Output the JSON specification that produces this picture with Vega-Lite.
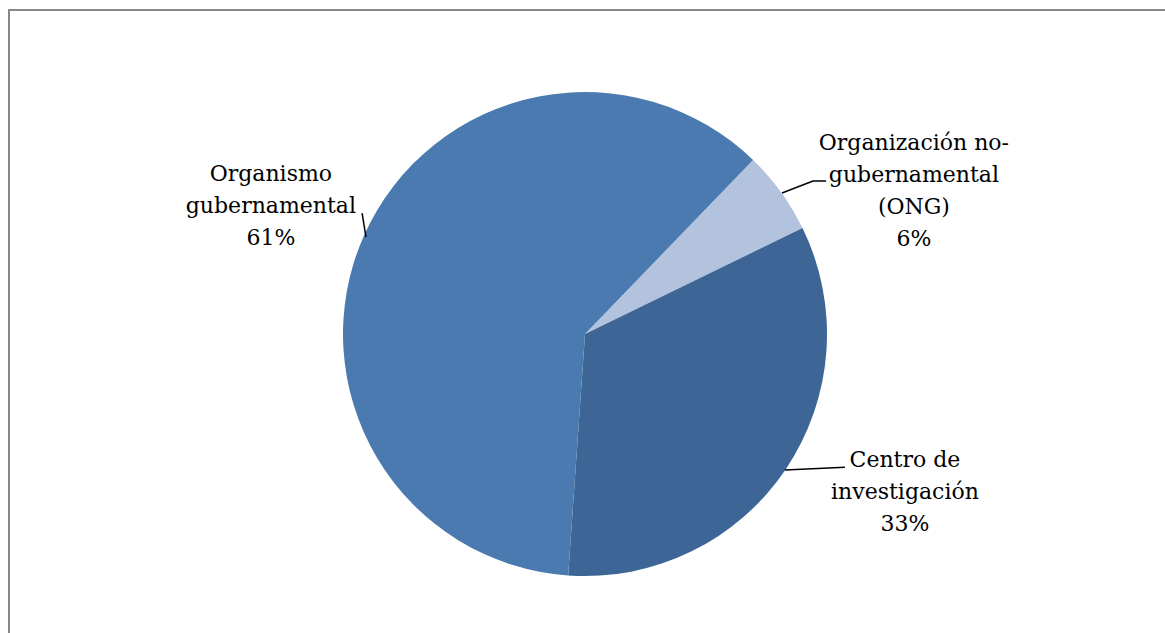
{
  "$schema": "https://vega.github.io/schema/vega-lite/v6.json",
  "width": 1160,
  "height": 630,
  "autosize": {"type": "none"},
  "padding": {"left": 9, "top": 10, "right": 0, "bottom": 0},
  "background": "white",
  "config": {"view": {"stroke": "#878787", "strokeWidth": 2}},
  "datasets": {
    "porciones": [
      {"categoria": "Organización no-gubernamental (ONG)", "valor": 1, "orden": 1},
      {"categoria": "Centro de investigación", "valor": 6, "orden": 2},
      {"categoria": "Organismo gubernamental", "valor": 11, "orden": 3}
    ],
    "etiquetas": [
      {"etiqueta": "Organismo\ngubernamental\n61%", "lx": -129.8, "ly": 66.1},
      {"etiqueta": "Organización no-\ngubernamental\n(ONG)\n6%", "lx": 135.9, "ly": 78.9},
      {"etiqueta": "Centro de\ninvestigación\n33%", "lx": 132.2, "ly": -52.1}
    ],
    "guias": [
      {"grupo": "Organismo", "paso": 1, "px": -92.1, "py": 50.0},
      {"grupo": "Organismo", "paso": 2, "px": -90.5, "py": 40.1},
      {"grupo": "ONG", "paso": 1, "px": 81.4, "py": 58.3},
      {"grupo": "ONG", "paso": 2, "px": 94.2, "py": 63.2},
      {"grupo": "ONG", "paso": 3, "px": 99.6, "py": 63.2},
      {"grupo": "Centro", "paso": 1, "px": 82.6, "py": -56.2},
      {"grupo": "Centro", "paso": 2, "px": 107.4, "py": -55.0}
    ]
  },
  "layer": [
    {
      "data": {"name": "porciones"},
      "mark": {"type": "arc", "radius": 242},
      "encoding": {
        "theta": {"field": "valor", "type": "quantitative", "stack": true, "scale": {"range": [0.768, 7.051]}},
        "order": {"field": "orden", "type": "quantitative"},
        "color": {
          "field": "categoria",
          "type": "nominal",
          "scale": {
            "domain": ["Organismo gubernamental", "Centro de investigación", "Organización no-gubernamental (ONG)"],
            "range": ["#4A7AB0", "#3D6696", "#B3C3DE"]
          },
          "legend": null
        },
        "x": {"datum": 0, "type": "quantitative", "scale": {"domain": [-238.0, 241.3], "nice": false, "zero": false}, "axis": null},
        "y": {"datum": 0, "type": "quantitative", "scale": {"domain": [-126.4, 133.9], "nice": false, "zero": false}, "axis": null}
      }
    },
    {
      "data": {"name": "guias"},
      "mark": {"type": "line", "color": "black", "strokeWidth": 1.5},
      "encoding": {
        "x": {"field": "px", "type": "quantitative", "scale": {"domain": [-238.0, 241.3], "nice": false, "zero": false}, "axis": null},
        "y": {"field": "py", "type": "quantitative", "scale": {"domain": [-126.4, 133.9], "nice": false, "zero": false}, "axis": null},
        "detail": {"field": "grupo", "type": "nominal"},
        "order": {"field": "paso", "type": "quantitative"}
      }
    },
    {
      "data": {"name": "etiquetas"},
      "mark": {"type": "text", "font": "DejaVu Serif", "fontSize": 22, "lineHeight": 32, "lineBreak": "\n", "align": "center", "baseline": "middle", "color": "black"},
      "encoding": {
        "x": {"field": "lx", "type": "quantitative", "scale": {"domain": [-238.0, 241.3], "nice": false, "zero": false}, "axis": null},
        "y": {"field": "ly", "type": "quantitative", "scale": {"domain": [-126.4, 133.9], "nice": false, "zero": false}, "axis": null},
        "text": {"field": "etiqueta", "type": "nominal"}
      }
    }
  ]
}
